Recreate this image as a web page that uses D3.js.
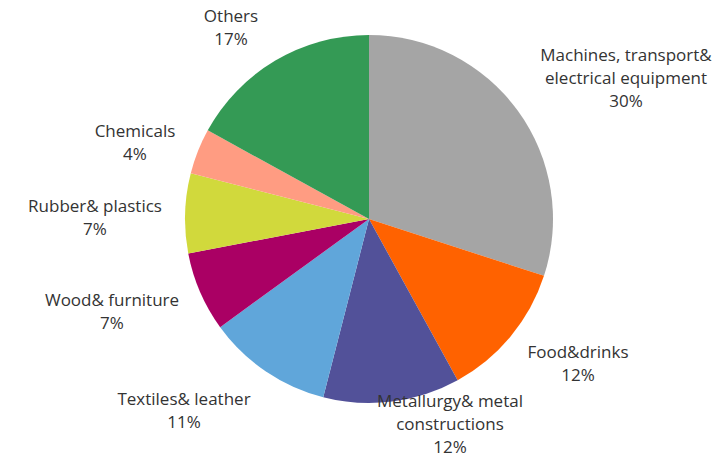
<!DOCTYPE html>
<html>
<head>
<meta charset="utf-8">
<script src="https://cdn.jsdelivr.net/npm/d3@7"></script>
<style>
  html, body { margin: 0; padding: 0; background: #fff; }
  svg { display: block; }
  text { font-family: "Open Sans", sans-serif; font-size: 17px; fill: #333; }
</style>
</head>
<body>
<svg id="chart" width="721" height="459"></svg>
<script>
// Sector shares of manufacturing (%)
const categories = [
  "Machines, transport&\nelectrical equipment",
  "Food&drinks",
  "Metallurgy& metal\nconstructions",
  "Textiles& leather",
  "Wood& furniture",
  "Rubber& plastics",
  "Chemicals",
  "Others"
];
const shares = [30, 12, 12, 11, 7, 7, 4, 17];
const colors = ["#a5a5a5", "#ff6200", "#525199", "#60a6da", "#aa0064", "#d1d93c", "#ff9c82", "#349a55"];

// Label anchor points (center of text block, first line baseline)
const labelAnchors = [
  [626, 61], [578, 358], [450, 407], [184, 405], [112, 306], [95, 212], [135, 137], [231, 22]
];

const width = 721, height = 459;
const cx = 369, cy = 219, radius = 184;
const lineHeight = 23;

const svg = d3.select("#chart");
const g = svg.append("g").attr("transform", `translate(${cx},${cy})`);

const pie = d3.pie().sort(null).value(d => d.value);
const arc = d3.arc().innerRadius(0).outerRadius(radius);

const data = categories.map((c, i) => ({ name: c, value: shares[i], color: colors[i] }));

g.selectAll("path.slice")
  .data(pie(data))
  .join("path")
  .attr("class", "slice")
  .attr("d", arc)
  .attr("fill", d => d.data.color);

const labels = svg.append("g").selectAll("text")
  .data(data)
  .join("text")
  .attr("text-anchor", "middle")
  .attr("transform", (d, i) => `translate(${labelAnchors[i][0]},${labelAnchors[i][1]})`);

labels.each(function (d) {
  const lines = d.name.split("\n").concat([`${d.value}%`]);
  d3.select(this).selectAll("tspan")
    .data(lines)
    .join("tspan")
    .attr("x", 0)
    .attr("dy", (l, j) => j === 0 ? 0 : lineHeight)
    .text(l => l);
});
</script>
</body>
</html>
